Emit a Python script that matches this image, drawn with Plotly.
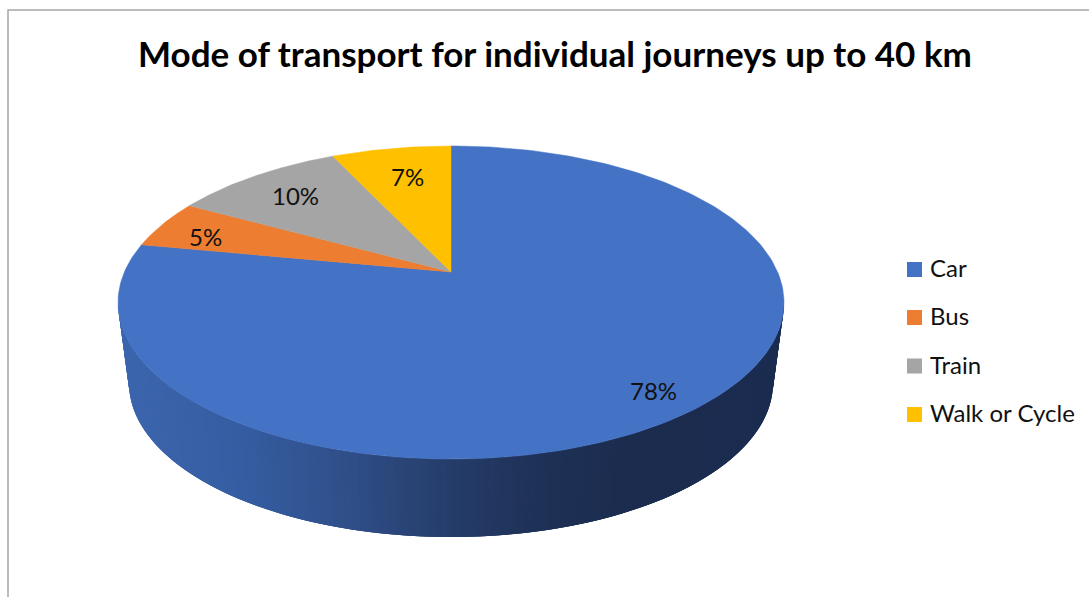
import numpy as np
import plotly.graph_objects as go

# Share of individual journeys up to 40 km, by mode of transport
categories = ["Car", "Bus", "Train", "Walk or Cycle"]
shares = [78, 5, 10, 7]
slice_colors = ["#4472C4", "#ED7D31", "#A5A5A5", "#FFC000"]

TITLE = "Mode of transport for individual journeys up to 40 km"
FONT = "Lato, Carlito, Calibri, sans-serif"

# Perspective disc: slice apex, projected radii and foreshortening factor
APEX_X, APEX_Y = 451.0, 272.0
RADIUS_X, RADIUS_Y, TILT = 326.6, 150.6, 0.195

# Outlines of the disc's top face and lower rim, as screen ellipses
TOP_CY, TOP_RX, TOP_RY = 302.5, 333.0, 156.5
LOW_CY, LOW_RX, LOW_RY = 383.0, 322.0, 154.0
WALL_STRIPS = 220

# Wall shading, dark towards the right of the disc
wall_stops_x = [118, 250, 350, 450, 540, 620, 784]
wall_stops_rgb = [(60, 102, 174), (53, 92, 160), (47, 78, 135),
                  (37, 60, 105), (30, 49, 86), (27, 44, 79), (27, 44, 80)]


def project(theta, radius=1.0):
    """Map a clockwise angle from 12 o'clock on the disc to the screen."""
    u, v = radius * np.sin(theta), radius * np.cos(theta)
    scale = 1 + TILT * v
    return APEX_X + RADIUS_X * u / scale, APEX_Y - RADIUS_Y * v / scale


def wall_color(x):
    channels = [np.interp(x, wall_stops_x, [c[i] for c in wall_stops_rgb]) for i in range(3)]
    return "rgb({:.0f},{:.0f},{:.0f})".format(*channels)


fig = go.Figure()

# Side wall of the disc: overlapping strips, each painted over by the next
phis = np.linspace(np.pi, 2 * np.pi, WALL_STRIPS + 1)
for i in range(WALL_STRIPS):
    a, b = phis[i], phis[min(i + 3, WALL_STRIPS)]
    xs = [APEX_X + TOP_RX * np.cos(a), APEX_X + TOP_RX * np.cos(b),
          APEX_X + LOW_RX * np.cos(b), APEX_X + LOW_RX * np.cos(a)]
    ys = [TOP_CY - TOP_RY * np.sin(a), TOP_CY - TOP_RY * np.sin(b),
          LOW_CY - LOW_RY * np.sin(b), LOW_CY - LOW_RY * np.sin(a)]
    mid_x = APEX_X + (TOP_RX + LOW_RX) / 2 * np.cos(phis[i])
    fig.add_trace(go.Scatter(x=xs, y=ys, mode="lines", fill="toself",
                             fillcolor=wall_color(mid_x),
                             line=dict(width=0), hoverinfo="skip"))

# Top face: one wedge per category, clockwise from 12 o'clock
fractions = np.cumsum([0] + shares) / sum(shares)
for name, start, end, color in zip(categories, fractions[:-1], fractions[1:], slice_colors):
    thetas = np.linspace(start, end, 240) * 2 * np.pi
    rim_x, rim_y = project(thetas)
    fig.add_trace(go.Scatter(x=[APEX_X, *rim_x, APEX_X], y=[APEX_Y, *rim_y, APEX_Y],
                             mode="lines", fill="toself", fillcolor=color,
                             line=dict(color=color, width=0.5), name=name,
                             hovertemplate=name + "<extra></extra>"))

# Percentage labels sit along each wedge's middle angle
label_radius = [0.825, 0.85, 0.80, 0.76]
label_shift_x = [6, 2, 5, 4]
label_shift_y = [9, 6, 2, 2]
annotations = []
for value, start, end, radius, dx, dy in zip(shares, fractions[:-1], fractions[1:],
                                             label_radius, label_shift_x, label_shift_y):
    lx, ly = project((start + end) * np.pi, radius)
    annotations.append(dict(x=lx + dx, y=ly + dy, text=f"{value}%", showarrow=False,
                            font=dict(family=FONT, size=24, color="#111111")))

# Legend on the right
legend_y = [269.5, 317.5, 366, 414.5]
fig.add_trace(go.Scatter(x=[914.5] * len(categories), y=legend_y, mode="markers",
                         marker=dict(symbol="square", size=15, color=slice_colors,
                                     line=dict(width=0)),
                         hoverinfo="skip"))
for name, y in zip(categories, legend_y):
    annotations.append(dict(x=927.5, y=y - 2, text=name, showarrow=False, xanchor="left",
                            font=dict(family=FONT, size=24, color="#111111")))

fig.update_layout(
    width=1089, height=597, showlegend=False,
    margin=dict(l=0, r=0, t=0, b=0),
    paper_bgcolor="white", plot_bgcolor="white",
    title=dict(text=f"<b>{TITLE}</b>", x=555 / 1089, xanchor="center",
               y=1 - 55 / 597, yanchor="middle",
               font=dict(family=FONT, size=35, color="black")),
    xaxis=dict(range=[0, 1089], visible=False, fixedrange=True),
    yaxis=dict(range=[597, 0], visible=False, fixedrange=True),
    annotations=annotations,
    # Chart frame runs off the right and bottom of the page
    shapes=[dict(type="rect", x0=8, y0=10, x1=1300, y1=800,
                 line=dict(color="#A6A6A6", width=1.5), layer="below")],
)

fig.write_html("out.html", config=dict(displayModeBar=False))
